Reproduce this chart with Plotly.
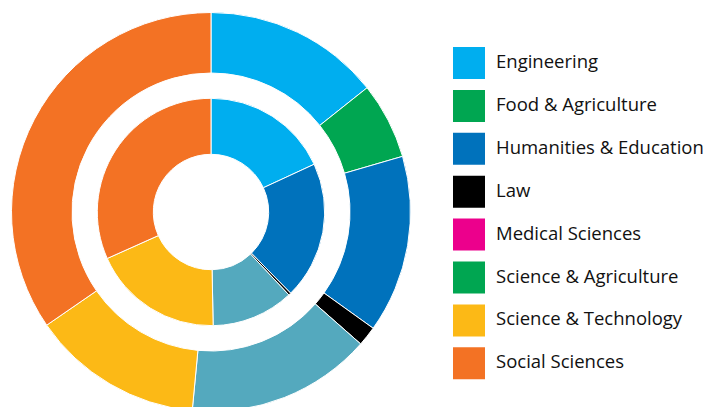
import plotly.graph_objects as go

W, H = 709, 424

# Data (share of the ring, in percent)
outer_labels = ["Engineering", "Food & Agriculture", "Humanities & Education", "Law",
                "Other", "Science & Technology", "Social Sciences"]
outer_values = [14.3, 6.2, 14.4, 1.6, 15.0, 13.9, 34.6]
inner_labels = ["Engineering", "Humanities & Education", "Law",
                "Other", "Science & Technology", "Social Sciences"]
inner_values = [18.1, 19.55, 0.35, 11.7, 18.6, 31.7]

legend_labels = ["Engineering", "Food & Agriculture", "Humanities & Education", "Law",
                 "Medical Sciences", "Science & Agriculture", "Science & Technology",
                 "Social Sciences"]

color_map = {
    "Engineering": "#00AEEF",
    "Food & Agriculture": "#00A651",
    "Humanities & Education": "#0072BC",
    "Law": "#000000",
    "Medical Sciences": "#EC008C",
    "Science & Agriculture": "#00A651",
    "Science & Technology": "#FCB916",
    "Social Sciences": "#F37224",
    "Other": "#54A9BE",
}

cx, cy = 211, 212
R_out, r_out = 199.5, 139
R_in, r_in = 113.7, 57.7


def dom(R):
    return dict(x=[(cx - R) / W, (cx + R) / W],
                y=[(H - cy - R) / H, (H - cy + R) / H])


fig = go.Figure()
fig.add_trace(go.Pie(labels=outer_labels, values=outer_values, sort=False,
                     direction="clockwise", rotation=0, hole=r_out / R_out,
                     domain=dom(R_out), textinfo="none", showlegend=False,
                     hoverinfo="label+percent",
                     marker=dict(colors=[color_map[l] for l in outer_labels],
                                 line=dict(color="white", width=1))))
fig.add_trace(go.Pie(labels=inner_labels, values=inner_values, sort=False,
                     direction="clockwise", rotation=0, hole=r_in / R_in,
                     domain=dom(R_in), textinfo="none", showlegend=False,
                     hoverinfo="label+percent",
                     marker=dict(colors=[color_map[l] for l in inner_labels],
                                 line=dict(color="white", width=1))))

# manual legend
lx0, ly0, sq, step = 453, 47, 32, 42.9
shapes, annos = [], []
for i, lab in enumerate(legend_labels):
    top = ly0 + i * step
    shapes.append(dict(type="rect", xref="paper", yref="paper",
                       x0=lx0 / W, x1=(lx0 + sq) / W,
                       y0=(H - top - sq) / H, y1=(H - top) / H,
                       fillcolor=color_map[lab], line=dict(width=0)))
    annos.append(dict(text=lab, xref="paper", yref="paper", x=494 / W,
                      y=(H - top - sq / 2 + 2.5) / H, xanchor="left", yanchor="middle",
                      showarrow=False, font=dict(family="Open Sans", size=18.5, color="#111")))

fig.update_layout(width=W, height=H, margin=dict(l=0, r=0, t=0, b=0),
                  paper_bgcolor="white", plot_bgcolor="white",
                  shapes=shapes, annotations=annos)

fig.write_html("out.html", config={"displayModeBar": False},
               post_script="document.body.style.overflow='hidden';document.body.style.margin='0';")
